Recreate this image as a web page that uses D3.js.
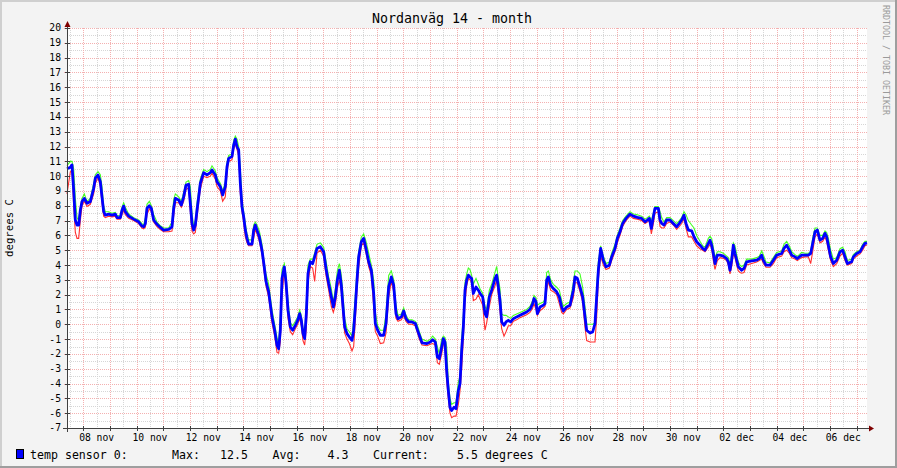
<!DOCTYPE html>
<html><head><meta charset="utf-8">
<script src="https://cdn.jsdelivr.net/npm/d3@7"></script>
<style>
html,body{margin:0;padding:0;background:#f3f3f3;}
svg{display:block;font-family:"DejaVu Sans Mono",monospace;}
</style>
</head><body>
<svg id="chart" width="897" height="468"></svg>
<script>
// ---- data ----
const title = "Nordanväg 14 - month";
const yUnit = "degrees C";
const watermark = "RRDTOOL / TOBI OETIKER";
const legendLabel = "temp sensor 0:";
const legendStatNames = ["Max:", "Avg:", "Current:"];
const legendStatValues = ["12.5", "4.3", "5.5 degrees C"];
const startTime = "2011-11-07 09:20";
const spanDays = 30;
const yTickValues = [-7,-6,-5,-4,-3,-2,-1,0,1,2,3,4,5,6,7,8,9,10,11,12,13,14,15,16,17,18,19,20];
const xTickDates = ["2011-11-08","2011-11-10","2011-11-12","2011-11-14","2011-11-16","2011-11-18","2011-11-20","2011-11-22","2011-11-24","2011-11-26","2011-11-28","2011-11-30","2011-12-02","2011-12-04","2011-12-06"];
const xTickLabels = ["08 nov","10 nov","12 nov","14 nov","16 nov","18 nov","20 nov","22 nov","24 nov","26 nov","28 nov","30 nov","02 dec","04 dec","06 dec"];

// hours after startTime
const hours = [0,3,4.5,6,7.5,9,10.5,12,13.5,15.6,
18,21,24,25.5,27.9,30,31.5,33,34.5,37.5,
40.5,43.5,45,48,49.5,51,52.5,55.5,60,64.5,
67.5,69,70.5,72,74.1,75.9,78,81,84,87,
91.5,94.5,96,97.5,100.5,102.9,105,107.1,109.5,111,
112.5,114,115.5,117,118.5,120,123,126,129,130.5,
133.5,135,138,140.1,142.5,144,145.5,148.5,150,151.5,
153,154.5,156,157.5,159,160.5,162,163.5,166.5,168,
169.5,171,173.1,175.5,177.3,179.1,181.5,184.5,186.9,189,
190.5,192,193.5,195.6,197.1,198.9,201,203.1,205.5,207.6,
209.4,210.9,212.4,213.9,215.4,216.9,219,221.1,222.9,225,
228,231,233.1,235.5,237.9,239.7,241.5,243.3,245.1,246.9,
248.4,249.9,252,254.1,256.5,258,259.5,261,262.5,264.9,
267,269.1,271.5,273.9,276,277.5,279.6,282,285,287.1,
289.5,291.9,294,296.1,297.9,300.9,303,305.1,307.5,310.5,
313.5,315,317.1,319.5,324,327,329.1,331.5,333.3,335.1,
337.2,338.7,340.2,341.7,343.2,344.7,346.2,348.3,350.1,352.2,
353.7,355.2,356.7,358.2,359.7,361.2,362.7,364.2,365.7,368.1,
370.2,371.7,374.1,376.2,377.7,380.1,382.2,385.2,386.7,388.2,
389.7,391.2,393.3,395.1,397.2,399.3,401.7,404.7,407.7,410.7,
413.7,416.7,419.1,420.3,422.1,423.3,425.7,428.7,430.2,431.7,
433.2,435.3,437.7,440.7,443.1,445.2,446.7,449.7,452.7,455.7,
457.2,459.3,461.7,464.1,466.2,467.7,470.7,473.1,475.2,476.7,
478.2,480.3,482.7,485.1,488.1,490.2,493.2,495.3,497.7,500.1,
503.1,506.7,509.7,513.3,517.2,520.2,522.3,524.1,525.9,527.7,
529.2,532.2,533.7,535.2,537.3,539.7,542.7,545.7,548.7,551.1,
553.2,555.3,557.1,559.2,562.2,564.3,566.7,569.7,572.1,574.2,
577.2,578.7,580.2,581.7,583.2,585.3,587.7,590.7,593.7,595.2,
596.7,598.2,599.7,601.2,602.7,604.2,605.7,607.2,609.3,611.7,
616.2,620.7,623.1,625.2,626.7,629.1,632.7,635.7,638.7,643.2,
645.3,647.7,650.1,652.2,655.2,657.3,659.1,661.2,664.2,667.2,
669.3,671.1,673.2,675.3,677.7,680.1,682.2,683.7,685.2,687.3,
689.7,692.7,695.7,698.1,700.2,702.3,706.2,707.7,710.7,713.7,
716.1,718.2,720];

const avgTemp = [10.5,10.6,10.76,9.07,7.04,6.7,6.7,7.7,8.28,8.5,
8.17,8.28,9.18,9.86,10.08,9.63,8.6,7.6,7.37,7.44,
7.37,7.44,7.2,7.2,7.7,7.98,7.6,7.3,7.1,6.92,
6.63,6.58,6.8,7.83,8.0,7.83,7.04,6.75,6.54,6.36,
6.4,6.58,7.83,8.5,8.39,8.05,8.6,9.4,9.45,8.17,
6.8,6.36,6.7,7.7,8.6,9.52,10.24,10.08,10.24,10.42,
10.08,9.63,9.29,8.73,9.29,10.64,11.2,11.32,12.1,12.5,
12.0,11.77,9.52,7.94,7.26,6.36,5.8,5.41,5.41,6.36,
6.7,6.36,5.91,5.0,4.0,2.9,2.19,0.5,-0.4,-1.42,
-1.65,-0.4,3.09,3.88,2.86,0.95,-0.18,-0.4,-0.07,0.27,
0.72,0.27,-0.63,-0.97,0.72,3.43,4.22,4.1,4.55,5.12,
5.23,4.89,3.77,2.75,1.85,1.17,1.85,2.98,3.65,2.64,
1.17,-0.18,-0.63,-0.86,-1.08,-0.4,1.17,2.98,4.55,5.57,
5.8,5.12,4.22,3.65,2.08,0.05,-0.4,-0.74,-0.74,0.05,
2.52,3.2,2.64,0.72,0.38,0.5,0.9,0.38,0.16,0.16,
0.05,-0.29,-0.74,-1.25,-1.3,-1.2,-1.04,-1.2,-2.21,-2.32,
-1.53,-0.97,-1.2,-3.11,-4.47,-5.6,-5.82,-5.6,-5.7,-4.47,
-4.01,-1.76,-0.18,2.3,2.98,3.32,3.2,3.09,2.08,2.52,
2.3,2.08,1.85,0.72,0.5,1.85,2.3,3.09,3.32,2.52,
1.62,0.16,-0.07,0.16,0.27,0.16,0.38,0.5,0.61,0.72,
0.83,1.0,1.4,1.74,1.51,0.72,1.17,1.28,1.4,2.98,
3.2,2.64,2.41,2.19,1.85,1.17,0.9,1.17,1.28,2.3,
3.2,3.09,2.52,1.85,0.5,-0.4,-0.59,-0.52,0.05,1.85,
3.65,5.12,4.33,3.88,3.99,4.55,5.12,5.8,6.25,6.81,
7.15,7.44,7.3,7.22,7.15,6.92,7.04,7.15,6.47,7.26,
7.83,7.83,7.04,6.81,6.7,7.04,7.04,6.81,6.58,6.81,
7.04,7.37,6.81,6.36,6.31,5.91,5.57,5.34,5.12,5.0,
5.46,5.68,5.34,4.78,4.1,4.67,4.67,4.6,4.44,4.22,
3.65,4.33,5.34,4.78,4.33,3.88,3.77,3.65,3.77,4.22,
4.28,4.33,4.44,4.67,4.33,3.99,3.99,4.33,4.67,4.78,
5.12,5.34,5.0,4.67,4.55,4.44,4.55,4.67,4.67,4.67,
4.78,5.46,6.25,6.36,5.68,5.8,6.14,5.91,5.34,4.55,
4.1,4.33,4.89,5.0,4.55,4.1,4.22,4.55,4.78,4.89,
5.23,5.46,5.5];

const minTemp = [8.8,10.3,10.4,8.0,6.2,5.8,5.8,7.0,8.0,8.3,
7.95,8.1,8.8,9.5,9.9,9.3,8.2,7.3,7.2,7.3,
7.25,7.3,7.1,7.1,7.4,7.7,7.4,7.15,7.0,6.8,
6.5,6.45,6.55,7.4,7.8,7.6,6.9,6.6,6.4,6.25,
6.25,6.3,7.3,8.2,8.2,7.9,8.3,9.1,9.2,7.6,
6.3,6.1,6.2,7.2,8.2,9.1,10.0,9.9,10.0,10.2,
9.8,9.3,9.0,8.3,8.6,10.2,11.0,11.1,11.8,12.2,
11.8,11.4,8.8,7.6,6.9,5.9,5.5,5.3,5.3,5.8,
6.4,6.1,5.6,4.7,3.6,2.6,1.8,0.1,-0.8,-1.9,
-1.95,-1.2,2.0,3.6,2.3,0.4,-0.5,-0.7,-0.3,0.0,
0.4,-0.1,-1.1,-1.4,-0.3,2.8,3.9,3.8,2.9,4.8,
5.0,4.6,3.3,2.3,1.2,0.8,1.3,2.4,3.0,2.2,
0.6,-0.6,-1.0,-1.3,-1.8,-1.5,0.3,2.3,3.8,5.3,
5.5,4.8,3.9,3.3,1.2,-0.5,-0.8,-1.3,-1.25,-0.6,
1.8,2.9,2.2,0.4,0.2,0.3,0.6,0.2,0.0,0.0,
-0.1,-0.5,-1.0,-1.4,-1.45,-1.35,-1.3,-1.4,-2.6,-2.7,
-2.0,-1.3,-1.5,-3.8,-5.0,-6.0,-6.3,-6.2,-6.2,-5.4,
-4.5,-3.0,-1.0,1.5,2.6,3.1,3.0,2.8,1.6,1.7,
2.0,1.7,1.3,-0.4,0.1,1.2,2.0,2.6,3.0,2.0,
0.9,-0.3,-0.8,-0.5,-0.1,-0.1,0.2,0.3,0.45,0.55,
0.65,0.8,1.1,1.4,1.0,0.6,0.9,1.1,1.2,2.3,
2.9,2.3,2.2,2.0,1.4,0.8,0.7,1.0,1.1,1.8,
2.8,2.8,2.2,1.5,-0.2,-1.1,-1.2,-1.2,-1.2,0.5,
3.0,4.6,4.0,3.7,3.8,4.3,4.9,5.5,6.0,6.6,
7.0,7.3,7.15,7.1,7.0,6.8,6.9,7.0,6.1,6.8,
7.5,7.6,6.6,6.5,6.5,6.8,6.9,6.7,6.4,6.6,
6.8,7.1,6.5,5.9,5.9,5.6,5.3,5.1,5.0,4.9,
5.2,5.4,5.1,4.3,3.7,4.3,4.5,4.45,4.3,4.0,
3.4,3.9,4.8,4.5,4.0,3.6,3.5,3.45,3.5,4.0,
4.1,4.2,4.3,4.4,4.1,3.85,3.85,4.1,4.5,4.6,
4.9,5.0,4.8,4.5,4.4,4.3,4.4,4.5,4.55,4.55,
4.1,4.9,5.9,6.1,5.5,5.6,5.9,5.6,5.0,4.3,
3.9,4.1,4.6,4.8,4.3,4.0,4.1,4.4,4.6,4.75,
5.0,5.3,5.35];

const maxTemp = [10.7,11.0,11.0,10.5,8.5,7.2,7.0,7.9,8.5,8.8,
8.3,8.5,9.5,10.1,10.3,10.1,9.3,8.0,7.6,7.6,
7.5,7.55,7.35,7.3,7.9,8.2,7.9,7.45,7.2,7.05,
6.8,6.7,7.2,8.1,8.3,8.0,7.4,6.9,6.65,6.5,
6.5,6.9,8.4,8.8,8.6,8.3,8.9,9.6,9.7,9.3,
7.5,6.6,7.0,8.2,9.0,9.8,10.45,10.3,10.45,10.7,
10.35,9.9,9.5,9.0,9.6,10.9,11.4,11.5,12.4,12.7,
12.5,12.0,10.5,8.4,7.6,6.8,6.1,5.7,5.7,6.7,
6.9,6.7,6.3,5.4,4.3,3.4,2.7,1.0,0.0,-0.9,
-1.3,0.5,3.7,4.1,3.3,1.6,0.1,-0.1,0.2,0.5,
0.95,0.6,-0.3,-0.6,1.4,4.0,4.4,4.4,4.8,5.4,
5.5,5.2,4.3,3.2,2.4,1.5,2.4,3.6,4.1,3.3,
2.0,0.4,-0.3,-0.5,-0.8,0.3,2.0,3.6,4.9,5.9,
6.1,5.6,4.8,4.0,3.0,0.8,-0.1,-0.4,-0.4,0.7,
3.3,3.6,3.0,1.3,0.6,0.7,1.1,0.6,0.3,0.3,
0.2,0.0,-0.5,-1.0,-1.15,-1.0,-0.8,-1.0,-1.5,-2.0,
-1.0,-0.8,-0.9,-1.5,-3.9,-5.0,-5.4,-5.3,-5.3,-3.9,
-3.5,-1.0,0.6,2.8,3.4,3.8,3.7,3.3,2.7,3.1,
2.7,2.4,2.1,1.2,1.0,2.3,2.7,3.5,3.9,3.1,
2.4,0.7,0.6,0.6,0.5,0.4,0.6,0.7,0.8,0.9,
1.0,1.2,1.6,1.95,1.8,1.3,1.4,1.5,1.7,3.5,
3.6,3.0,2.7,2.5,2.3,1.6,1.2,1.4,1.5,2.8,
3.6,3.6,3.4,2.5,1.2,0.0,0.0,0.0,0.1,2.5,
4.2,5.3,4.6,4.1,4.2,4.8,5.4,6.0,6.5,7.0,
7.3,7.6,7.45,7.4,7.3,7.1,7.2,7.3,7.0,7.5,
7.95,7.95,7.6,7.2,6.9,7.2,7.2,7.0,6.8,7.0,
7.2,7.6,7.4,7.0,6.7,6.5,6.0,5.6,5.3,5.2,
5.8,5.95,5.8,5.2,4.5,4.9,4.9,4.8,4.6,4.5,
4.1,4.7,5.5,5.3,4.7,4.2,4.0,3.9,4.0,4.4,
4.4,4.5,4.6,4.95,4.7,4.2,4.15,4.5,4.85,4.95,
5.4,5.6,5.3,4.9,4.7,4.6,4.7,4.85,4.8,4.8,
4.9,5.8,6.5,6.5,6.0,6.0,6.3,6.2,5.8,5.0,
4.4,4.5,5.1,5.2,4.9,4.3,4.4,4.7,4.9,5.0,
5.4,5.6,5.6];

// ---- layout ----
const W = 897, H = 468;
const plot = {left: 67, right: 867, top: 28, bottom: 428};
const svg = d3.select("#chart");

const parseT = d3.timeParse("%Y-%m-%d %H:%M");
const parseD = d3.timeParse("%Y-%m-%d");
const t0 = parseT(startTime);
const t1 = d3.timeDay.offset(t0, spanDays);
const x = d3.scaleTime().domain([t0, t1]).range([plot.left, plot.right]);
const y = d3.scaleLinear().domain([d3.min(yTickValues), d3.max(yTickValues)]).range([plot.bottom, plot.top]);
const px = v => Math.round(v) + 0.5;

// background + 3D border
svg.append("rect").attr("x",0).attr("y",0).attr("width",W).attr("height",H).attr("fill","#f3f3f3");
svg.append("path").attr("d",`M0,${H} V0 H${W}`).attr("fill","none").attr("stroke","#cfcfcf").attr("stroke-width",4);
svg.append("path").attr("d",`M${W},0 V${H} H0`).attr("fill","none").attr("stroke","#9e9e9e").attr("stroke-width",4);
svg.append("rect").attr("x",plot.left).attr("y",plot.top).attr("width",plot.right-plot.left).attr("height",plot.bottom-plot.top).attr("fill","#ffffff");

const grid = svg.append("g").attr("shape-rendering","crispEdges");
const minorCol = "#d6d6d6", majorCol = "#f4b0b0";
// minor horizontal grid (half units)
const halfVals = yTickValues.slice(0, -1).map(v => v + 0.5);
grid.selectAll("line.hmin").data(halfVals).join("line")
  .attr("x1", plot.left).attr("x2", plot.right)
  .attr("y1", d => px(y(d))).attr("y2", d => px(y(d)))
  .attr("stroke", minorCol).attr("stroke-dasharray", "1,1");
// minor vertical grid (noon)
const noons = d3.timeHour.every(12).range(t0, t1).filter(d => d.getHours() === 12);
grid.selectAll("line.vmin").data(noons).join("line")
  .attr("y1", plot.top).attr("y2", plot.bottom)
  .attr("x1", d => px(x(d))).attr("x2", d => px(x(d)))
  .attr("stroke", minorCol).attr("stroke-dasharray", "1,1");
// major horizontal grid
grid.selectAll("line.hmaj").data(yTickValues.filter(v => v !== d3.min(yTickValues))).join("line")
  .attr("x1", plot.left - 3).attr("x2", plot.right)
  .attr("y1", d => px(y(d))).attr("y2", d => px(y(d)))
  .attr("stroke", majorCol).attr("stroke-dasharray", "1,1");
// major vertical grid (midnight)
const days = d3.timeDay.range(t0, t1);
grid.selectAll("line.vmaj").data(days).join("line")
  .attr("y1", plot.top).attr("y2", plot.bottom + 3)
  .attr("x1", d => px(x(d))).attr("x2", d => px(x(d)))
  .attr("stroke", majorCol).attr("stroke-dasharray", "1,1");

// ---- series ----
const n = Math.min(hours.length, avgTemp.length, minTemp.length, maxTemp.length);
const rows = d3.range(n).map(i => ({t: d3.timeMinute.offset(t0, Math.round(hours[i]*60)), avg: avgTemp[i], mn: minTemp[i], mx: maxTemp[i]}));
const mkLine = key => d3.line().x(d => x(d.t)).y(d => y(d[key])).curve(d3.curveLinear);
svg.append("path").datum(rows).attr("d", mkLine("mx")).attr("fill","none").attr("stroke","#44ff22").attr("stroke-width",1.1);
svg.append("path").datum(rows).attr("d", mkLine("mn")).attr("fill","none").attr("stroke","#ff3030").attr("stroke-width",1.1);
svg.append("path").datum(rows).attr("d", mkLine("avg")).attr("fill","none").attr("stroke","#0000ff").attr("stroke-width",2.8).attr("stroke-linejoin","round");

// ---- axes ----
const axis = svg.append("g").attr("stroke","#404040").attr("shape-rendering","crispEdges");
axis.append("line").attr("x1", plot.left + 0.5).attr("x2", plot.left + 0.5).attr("y1", plot.bottom + 4).attr("y2", plot.top - 3);
axis.append("line").attr("x1", plot.left - 4).attr("x2", plot.right + 3).attr("y1", plot.bottom + 0.5).attr("y2", plot.bottom + 0.5);
// y ticks
axis.selectAll("line.yt").data(yTickValues).join("line")
  .attr("x1", plot.left - 2).attr("x2", plot.left + 3)
  .attr("y1", d => px(y(d))).attr("y2", d => px(y(d)));
// x ticks
axis.selectAll("line.xt").data(days).join("line")
  .attr("y1", plot.bottom - 2).attr("y2", plot.bottom + 3)
  .attr("x1", d => px(x(d))).attr("x2", d => px(x(d)));
// arrows
svg.append("path").attr("d", `M${plot.left-2.5},${plot.top-1} L${plot.left+3.5},${plot.top-1} L${plot.left+0.5},${plot.top-7} Z`).attr("fill","#7f0000");
svg.append("path").attr("d", `M${plot.right+2},${plot.bottom-2.5} L${plot.right+2},${plot.bottom+3.5} L${plot.right+7},${plot.bottom+0.5} Z`).attr("fill","#7f0000");

// y labels
svg.append("g").selectAll("text").data(yTickValues).join("text")
  .attr("x", 61).attr("y", d => y(d)).attr("dy", "0.36em")
  .attr("text-anchor", "end").attr("font-size", "9.7px").attr("fill", "#000")
  .text(d => d);
// x labels (centered at noon)
svg.append("g").selectAll("text").data(xTickDates).join("text")
  .attr("x", d => x(d3.timeHour.offset(parseD(d), 12))).attr("y", 441)
  .attr("text-anchor", "middle").attr("font-size", "9.7px").attr("fill", "#000")
  .text((d, i) => xTickLabels[i]);

// title
svg.append("text").attr("x", 452).attr("y", 23).attr("text-anchor", "middle")
  .attr("font-size", "13.3px").attr("fill", "#000").text(title);
// unit
svg.append("text").attr("transform", `translate(13,${(plot.top+plot.bottom)/2}) rotate(-90)`)
  .attr("text-anchor", "middle").attr("font-size", "10.7px").attr("fill", "#000").text(yUnit);
// watermark
svg.append("text").attr("transform", `translate(883,5) rotate(90)`)
  .attr("text-anchor", "start").attr("font-size", "8.3px").attr("fill", "#9a9a9a").text(watermark);

// legend
const lg = svg.append("g").attr("font-size", "11.6px").attr("fill", "#000");
lg.append("rect").attr("x", 16.5).attr("y", 449.5).attr("width", 7).attr("height", 9).attr("fill", "#0000ff").attr("stroke", "#000");
lg.append("text").attr("x", 30).attr("y", 459).text(legendLabel);
const nameX = [172, 272.5, 373];
const valX = [248, 348.5, 457];
const valAnchor = ["end", "end", "start"];
legendStatNames.forEach((s, i) => {
  lg.append("text").attr("x", nameX[i]).attr("y", 459).text(s);
  lg.append("text").attr("x", valX[i]).attr("y", 459).attr("text-anchor", valAnchor[i]).text(legendStatValues[i]);
});
</script>
</body></html>
